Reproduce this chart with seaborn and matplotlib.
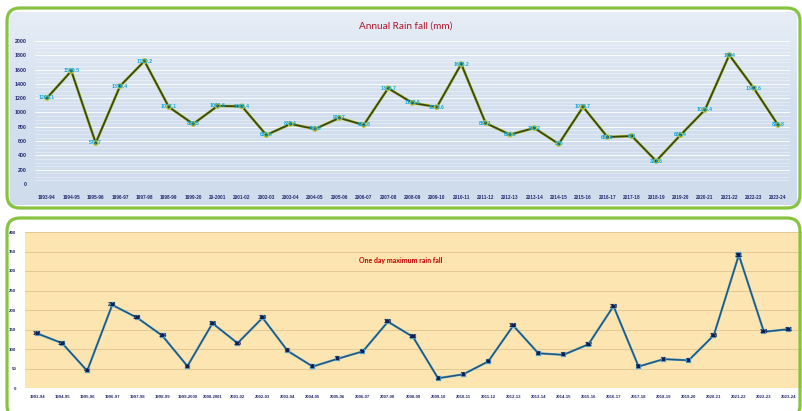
import matplotlib
matplotlib.use('Agg')
import matplotlib.pyplot as plt
import matplotlib.patheffects as pe
from matplotlib.patches import FancyBboxPatch
from matplotlib.colors import LinearSegmentedColormap
import numpy as np
import seaborn as sns

# Data
years_annual = ['1993-94', '1994-95', '1995-96', '1996-97', '1997-98', '1998-99', '1999-20',
                '20-2001', '2001-02', '2002-03', '2003-04', '2004-05', '2005-06', '2006-07',
                '2007-08', '2008-09', '2009-10', '2010-11', '2011-12', '2012-13', '2013-14',
                '2014-15', '2015-16', '2016-17', '2017-18', '2018-19', '2019-20', '2020-21',
                '2021-22', '2022-23', '2023-24']
annual_rain = [1203.1, 1580.5, 573.7, 1370.4, 1720.2, 1077.1, 839.5, 1091.6, 1086.4, 685.5,
               839.4, 769.8, 923.7, 825.8, 1338.7, 1133.6, 1076.6, 1678.2, 853.1, 690.6,
               783.2, 560, 1078.7, 656.8, 671, 321.6, 685.4, 1036.4, 1804, 1342.6, 825.8]

years_max = ['1993-94', '1994-95', '1995-96', '1996-97', '1997-98', '1998-99', '1999-2000',
             '2000-2001', '2001-02', '2002-03', '2003-04', '2004-05', '2005-06', '2006-07',
             '2007-08', '2008-09', '2009-10', '2010-11', '2011-12', '2012-13', '2013-14',
             '2014-15', '2015-16', '2016-17', '2017-18', '2018-19', '2019-20', '2020-21',
             '2021-22', '2022-23', '2023-24']
max_rain = [140, 115, 44, 213, 180, 134, 56, 166, 115, 180, 95, 55, 75, 94, 170, 131,
            25, 35, 68, 160, 89, 85, 112, 210, 55, 74, 71, 135, 341, 144, 151]

sns.set_style('white')
plt.rcParams['font.family'] = ['Liberation Sans', 'DejaVu Sans']

W, H = 802, 411
fig = plt.figure(figsize=(W / 100, H / 100), dpi=100)


def fig_rect(x0, y0, x1, y1):
    # pixel box (top-left origin) -> figure fraction rect
    return [x0 / W, 1 - y1 / H, (x1 - x0) / W, (y1 - y0) / H]


tick_col = '#232a6e'

# ---------- top panel: annual rain fall ----------
ax_bg = fig.add_axes(fig_rect(10, 12, 797, 205), zorder=0)
grad = np.linspace(0, 1, 100).reshape(-1, 1)
cmap = LinearSegmentedColormap.from_list('bg', ['#e6edf6', '#d3dfee', '#cfdcec'])
ax_bg.imshow(grad, aspect='auto', cmap=cmap, extent=[0, 1, 0, 1])
ax_bg.axis('off')

ax1 = fig.add_axes(fig_rect(34.8, 41, 790.2, 184), zorder=1)
ax1.set_facecolor('none')
sns.lineplot(x=years_annual, y=annual_rain, sort=False, ax=ax1, color='#3a4712',
             linewidth=1.3, marker='o', markersize=2.2, markeredgewidth=0,
             path_effects=[pe.Stroke(linewidth=2.1, foreground='#b9c94a'), pe.Normal()])
for i, v in enumerate(annual_rain):
    ax1.text(i, v, f'{v:g}', ha='center', va='center', fontsize=3.7, fontweight='bold',
             color='#10a8d8', zorder=5)
ax1.set_xlim(-0.5, len(years_annual) - 0.5)
ax1.set_ylim(0, 2000)
ax1.set_yticks(range(0, 2001, 200))
ax1.set_yticks(range(0, 2001, 50), minor=True)
ax1.grid(axis='y', which='major', color='white', linewidth=0.7, alpha=0.9)
ax1.grid(axis='y', which='minor', color='white', linewidth=0.4, alpha=0.6)
ax1.set_axisbelow(True)
ax1.tick_params(axis='both', which='both', length=0, colors=tick_col)
ax1.tick_params(axis='y', labelsize=3.8, pad=6)
ax1.tick_params(axis='x', labelsize=3.4, pad=8)
for lab in ax1.get_xticklabels() + ax1.get_yticklabels():
    lab.set_fontweight('bold')
ax1.set_xlabel('')
ax1.set_ylabel('')
sns.despine(ax=ax1, left=True, bottom=True)
fig.text(406 / W, 1 - 26 / H, 'Annual Rain fall (mm)', ha='center', va='center',
         fontsize=7.2, color='#b0142c', family=['Lato', 'DejaVu Sans'])

# ---------- bottom panel: one day maximum ----------
ax2 = fig.add_axes(fig_rect(24.5, 232, 801.5, 388), zorder=1)
ax2.set_facecolor('#fce5b0')
sns.lineplot(x=years_max, y=max_rain, sort=False, ax=ax2, color='#1f5276',
             linewidth=0.9, marker='s', markersize=2.2, markeredgewidth=0,
             markerfacecolor='#14205a',
             path_effects=[pe.Stroke(linewidth=1.6, foreground='#4a9bc8'), pe.Normal()])
for i, v in enumerate(max_rain):
    ax2.text(i, v, f'{v:g}', ha='center', va='center', fontsize=3.5, fontweight='bold',
             color='#141c4a', zorder=5)
ax2.set_xlim(-0.5, len(years_max) - 0.5)
ax2.set_ylim(0, 400)
ax2.set_yticks(range(0, 401, 50))
ax2.grid(axis='y', color='#dfc38e', linewidth=0.6)
ax2.set_axisbelow(True)
ax2.tick_params(axis='both', length=0, colors=tick_col)
ax2.tick_params(axis='y', labelsize=3.2, pad=6)
ax2.tick_params(axis='x', labelsize=3.1, pad=5)
for lab in ax2.get_xticklabels() + ax2.get_yticklabels():
    lab.set_fontweight('bold')
ax2.set_xlabel('')
ax2.set_ylabel('')
sns.despine(ax=ax2, left=True, bottom=True)
fig.text(401 / W, 1 - 260 / H, 'One day maximum rain fall', ha='center', va='center',
         fontsize=5, fontweight='bold', color='#c00000', family=['Lato', 'DejaVu Sans'])

# ---------- green rounded frames ----------
def frame(x0, y0, x1, y1):
    box = FancyBboxPatch((x0 / 100, (H - y1) / 100), (x1 - x0) / 100, (y1 - y0) / 100,
                         boxstyle='round,pad=0,rounding_size=0.13',
                         transform=fig.dpi_scale_trans, facecolor='none',
                         edgecolor='#86c440', linewidth=2.3, zorder=10)
    fig.patches.append(box)


frame(7, 8, 800, 208)
frame(7, 218, 800, 418)

fig.savefig('out.png', dpi=100)
